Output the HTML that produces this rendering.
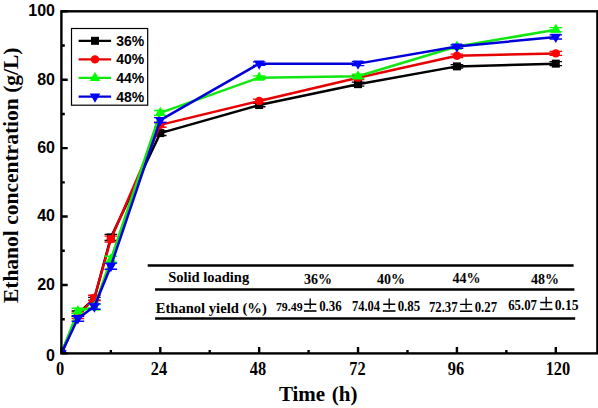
<!DOCTYPE html>
<html><head><meta charset="utf-8"><style>
html,body{margin:0;padding:0;background:#fff;}
body{width:598px;height:408px;overflow:hidden;}
svg{display:block;}
.s{font-family:"Liberation Sans",sans-serif;font-weight:bold;}
.r{font-family:"Liberation Serif",serif;font-weight:bold;}
</style></head><body>
<svg width="598" height="408" viewBox="0 0 598 408">
<rect x="0" y="0" width="598" height="408" fill="#fff"/>

<defs><clipPath id="pc"><rect x="61.4" y="11.3" width="536.00" height="342.10"/></clipPath></defs>
<g clip-path="url(#pc)">
<polyline points="61.40,353.40 77.88,313.72 94.36,298.66 110.84,237.43 160.28,133.09 259.16,105.04 358.04,84.17 456.92,66.38 555.80,63.64" fill="none" stroke="#000000" stroke-width="2.5" stroke-linejoin="round"/>
<rect x="57.40" y="349.40" width="8" height="8" fill="#000000"/>
<path d="M77.88 310.98V316.45M71.58 310.98H84.18M71.58 316.45H84.18" stroke="#000000" stroke-width="1.3" fill="none"/>
<rect x="73.88" y="309.72" width="8" height="8" fill="#000000"/>
<path d="M94.36 297.30V300.03M88.06 297.30H100.66M88.06 300.03H100.66" stroke="#000000" stroke-width="1.3" fill="none"/>
<rect x="90.36" y="294.66" width="8" height="8" fill="#000000"/>
<path d="M110.84 234.35V240.51M104.54 234.35H117.14M104.54 240.51H117.14" stroke="#000000" stroke-width="1.3" fill="none"/>
<rect x="106.84" y="233.43" width="8" height="8" fill="#000000"/>
<path d="M160.28 130.69V135.48M153.98 130.69H166.58M153.98 135.48H166.58" stroke="#000000" stroke-width="1.3" fill="none"/>
<rect x="156.28" y="129.09" width="8" height="8" fill="#000000"/>
<path d="M259.16 103.32V106.75M252.86 103.32H265.46M252.86 106.75H265.46" stroke="#000000" stroke-width="1.3" fill="none"/>
<rect x="255.16" y="101.04" width="8" height="8" fill="#000000"/>
<path d="M358.04 82.11V86.22M351.74 82.11H364.34M351.74 86.22H364.34" stroke="#000000" stroke-width="1.3" fill="none"/>
<rect x="354.04" y="80.17" width="8" height="8" fill="#000000"/>
<path d="M456.92 64.67V68.09M450.62 64.67H463.22M450.62 68.09H463.22" stroke="#000000" stroke-width="1.3" fill="none"/>
<rect x="452.92" y="62.38" width="8" height="8" fill="#000000"/>
<path d="M555.80 61.59V65.69M549.50 61.59H562.10M549.50 65.69H562.10" stroke="#000000" stroke-width="1.3" fill="none"/>
<rect x="551.80" y="59.64" width="8" height="8" fill="#000000"/>
<polyline points="61.40,353.40 77.88,315.77 94.36,297.98 110.84,239.14 160.28,124.88 259.16,100.93 358.04,77.67 456.92,55.77 555.80,53.38" fill="none" stroke="#e60000" stroke-width="2.5" stroke-linejoin="round"/>
<circle cx="61.40" cy="353.40" r="4.2" fill="#ff0000"/>
<path d="M77.88 313.03V318.51M71.58 313.03H84.18M71.58 318.51H84.18" stroke="#ff0000" stroke-width="1.3" fill="none"/>
<circle cx="77.88" cy="315.77" r="4.2" fill="#ff0000"/>
<path d="M94.36 295.24V300.72M88.06 295.24H100.66M88.06 300.72H100.66" stroke="#ff0000" stroke-width="1.3" fill="none"/>
<circle cx="94.36" cy="297.98" r="4.2" fill="#ff0000"/>
<path d="M110.84 236.06V242.22M104.54 236.06H117.14M104.54 242.22H117.14" stroke="#ff0000" stroke-width="1.3" fill="none"/>
<circle cx="110.84" cy="239.14" r="4.2" fill="#ff0000"/>
<path d="M160.28 122.48V127.27M153.98 122.48H166.58M153.98 127.27H166.58" stroke="#ff0000" stroke-width="1.3" fill="none"/>
<circle cx="160.28" cy="124.88" r="4.2" fill="#ff0000"/>
<path d="M259.16 99.22V102.64M252.86 99.22H265.46M252.86 102.64H265.46" stroke="#ff0000" stroke-width="1.3" fill="none"/>
<circle cx="259.16" cy="100.93" r="4.2" fill="#ff0000"/>
<path d="M358.04 75.61V79.72M351.74 75.61H364.34M351.74 79.72H364.34" stroke="#ff0000" stroke-width="1.3" fill="none"/>
<circle cx="358.04" cy="77.67" r="4.2" fill="#ff0000"/>
<path d="M456.92 54.06V57.48M450.62 54.06H463.22M450.62 57.48H463.22" stroke="#ff0000" stroke-width="1.3" fill="none"/>
<circle cx="456.92" cy="55.77" r="4.2" fill="#ff0000"/>
<path d="M555.80 51.33V55.43M549.50 51.33H562.10M549.50 55.43H562.10" stroke="#ff0000" stroke-width="1.3" fill="none"/>
<circle cx="555.80" cy="53.38" r="4.2" fill="#ff0000"/>
<polyline points="61.40,353.40 77.88,310.98 94.36,307.22 110.84,259.32 160.28,112.90 259.16,77.67 358.04,76.30 456.92,46.54 555.80,29.77" fill="none" stroke="#12e612" stroke-width="2.5" stroke-linejoin="round"/>
<path d="M61.40 347.30 L66.70 356.50 L56.10 356.50Z" fill="#00ff00"/>
<path d="M77.88 308.24V313.72M71.58 308.24H84.18M71.58 313.72H84.18" stroke="#00ff00" stroke-width="1.3" fill="none"/>
<path d="M77.88 304.88 L83.18 314.08 L72.58 314.08Z" fill="#00ff00"/>
<path d="M94.36 304.48V309.95M88.06 304.48H100.66M88.06 309.95H100.66" stroke="#00ff00" stroke-width="1.3" fill="none"/>
<path d="M94.36 301.12 L99.66 310.32 L89.06 310.32Z" fill="#00ff00"/>
<path d="M110.84 256.24V262.40M104.54 256.24H117.14M104.54 262.40H117.14" stroke="#00ff00" stroke-width="1.3" fill="none"/>
<path d="M110.84 253.22 L116.14 262.42 L105.54 262.42Z" fill="#00ff00"/>
<path d="M160.28 110.51V115.30M153.98 110.51H166.58M153.98 115.30H166.58" stroke="#00ff00" stroke-width="1.3" fill="none"/>
<path d="M160.28 106.80 L165.58 116.00 L154.98 116.00Z" fill="#00ff00"/>
<path d="M259.16 75.96V79.38M252.86 75.96H265.46M252.86 79.38H265.46" stroke="#00ff00" stroke-width="1.3" fill="none"/>
<path d="M259.16 71.57 L264.46 80.77 L253.86 80.77Z" fill="#00ff00"/>
<path d="M358.04 74.25V78.35M351.74 74.25H364.34M351.74 78.35H364.34" stroke="#00ff00" stroke-width="1.3" fill="none"/>
<path d="M358.04 70.20 L363.34 79.40 L352.74 79.40Z" fill="#00ff00"/>
<path d="M456.92 44.83V48.25M450.62 44.83H463.22M450.62 48.25H463.22" stroke="#00ff00" stroke-width="1.3" fill="none"/>
<path d="M456.92 40.44 L462.22 49.64 L451.62 49.64Z" fill="#00ff00"/>
<path d="M555.80 27.72V31.83M549.50 27.72H562.10M549.50 31.83H562.10" stroke="#00ff00" stroke-width="1.3" fill="none"/>
<path d="M555.80 23.67 L561.10 32.87 L550.50 32.87Z" fill="#00ff00"/>
<polyline points="61.40,353.40 77.88,318.51 94.36,306.53 110.84,266.16 160.28,120.09 259.16,63.64 358.04,63.64 456.92,46.54 555.80,36.96" fill="none" stroke="#0000d8" stroke-width="2.5" stroke-linejoin="round"/>
<path d="M61.40 359.50 L66.70 350.30 L56.10 350.30Z" fill="#0000ff"/>
<path d="M77.88 315.77V321.24M71.58 315.77H84.18M71.58 321.24H84.18" stroke="#0000ff" stroke-width="1.3" fill="none"/>
<path d="M77.88 324.61 L83.18 315.41 L72.58 315.41Z" fill="#0000ff"/>
<path d="M94.36 303.80V309.27M88.06 303.80H100.66M88.06 309.27H100.66" stroke="#0000ff" stroke-width="1.3" fill="none"/>
<path d="M94.36 312.63 L99.66 303.43 L89.06 303.43Z" fill="#0000ff"/>
<path d="M110.84 263.09V269.24M104.54 263.09H117.14M104.54 269.24H117.14" stroke="#0000ff" stroke-width="1.3" fill="none"/>
<path d="M110.84 272.26 L116.14 263.06 L105.54 263.06Z" fill="#0000ff"/>
<path d="M160.28 117.69V122.48M153.98 117.69H166.58M153.98 122.48H166.58" stroke="#0000ff" stroke-width="1.3" fill="none"/>
<path d="M160.28 126.19 L165.58 116.99 L154.98 116.99Z" fill="#0000ff"/>
<path d="M259.16 61.93V65.35M252.86 61.93H265.46M252.86 65.35H265.46" stroke="#0000ff" stroke-width="1.3" fill="none"/>
<path d="M259.16 69.74 L264.46 60.54 L253.86 60.54Z" fill="#0000ff"/>
<path d="M358.04 61.59V65.69M351.74 61.59H364.34M351.74 65.69H364.34" stroke="#0000ff" stroke-width="1.3" fill="none"/>
<path d="M358.04 69.74 L363.34 60.54 L352.74 60.54Z" fill="#0000ff"/>
<path d="M456.92 44.83V48.25M450.62 44.83H463.22M450.62 48.25H463.22" stroke="#0000ff" stroke-width="1.3" fill="none"/>
<path d="M456.92 52.64 L462.22 43.44 L451.62 43.44Z" fill="#0000ff"/>
<path d="M555.80 34.90V39.01M549.50 34.90H562.10M549.50 39.01H562.10" stroke="#0000ff" stroke-width="1.3" fill="none"/>
<path d="M555.80 43.06 L561.10 33.86 L550.50 33.86Z" fill="#0000ff"/>
</g>
<rect x="61.4" y="11.3" width="536.00" height="342.10" fill="none" stroke="#000" stroke-width="2.4"/>
<path d="M61.40 353.40H67.70M61.40 319.19H64.80M61.40 284.98H67.70M61.40 250.77H64.80M61.40 216.56H67.70M61.40 182.35H64.80M61.40 148.14H67.70M61.40 113.93H64.80M61.40 79.72H67.70M61.40 45.51H64.80M61.40 11.30H67.70M61.40 353.40V347.10M110.84 353.40V350.00M160.28 353.40V347.10M209.72 353.40V350.00M259.16 353.40V347.10M308.60 353.40V350.00M358.04 353.40V347.10M407.48 353.40V350.00M456.92 353.40V347.10M506.36 353.40V350.00M555.80 353.40V347.10" stroke="#000" stroke-width="2.4" fill="none"/>
<text class="s" x="55" y="360.5" font-size="16" text-anchor="end">0</text>
<text class="s" x="55" y="289.7" font-size="16" text-anchor="end">20</text>
<text class="s" x="55" y="221.0" font-size="16" text-anchor="end">40</text>
<text class="s" x="55" y="152.5" font-size="16" text-anchor="end">60</text>
<text class="s" x="55" y="84.5" font-size="16" text-anchor="end">80</text>
<text class="s" x="55" y="15.8" font-size="16" text-anchor="end">100</text>
<text class="r" transform="translate(60.20,374.8) scale(0.91,1)" font-size="18" text-anchor="middle">0</text>
<text class="r" transform="translate(159.00,374.8) scale(0.91,1)" font-size="18" text-anchor="middle">24</text>
<text class="r" transform="translate(258.00,374.8) scale(0.91,1)" font-size="18" text-anchor="middle">48</text>
<text class="r" transform="translate(357.40,374.8) scale(0.91,1)" font-size="18" text-anchor="middle">72</text>
<text class="r" transform="translate(456.00,374.8) scale(0.91,1)" font-size="18" text-anchor="middle">96</text>
<text class="r" transform="translate(557.90,374.8) scale(0.91,1)" font-size="18" text-anchor="middle">120</text>
<text class="r" x="278.9" y="401.3" font-size="21" word-spacing="1.3">Time (h)</text>
<text class="r" transform="translate(17.6,175.3) rotate(-90)" x="0" y="0" font-size="21.5" text-anchor="middle">Ethanol concentration (g/L)</text>
<rect x="71.5" y="28.5" width="76.2" height="76.7" fill="#fff" stroke="#000" stroke-width="1.2"/>
<line x1="78.6" y1="40.8" x2="111.1" y2="40.8" stroke="#000000" stroke-width="2.3"/>
<rect x="91.00" y="36.80" width="8" height="8" fill="#000000"/>
<text class="s" x="116.2" y="45.80" font-size="14">36%</text>
<line x1="78.6" y1="59.4" x2="111.1" y2="59.4" stroke="#e60000" stroke-width="2.3"/>
<circle cx="95.00" cy="59.40" r="4.2" fill="#ff0000"/>
<text class="s" x="116.2" y="64.40" font-size="14">40%</text>
<line x1="78.6" y1="77.9" x2="111.1" y2="77.9" stroke="#12e612" stroke-width="2.3"/>
<path d="M95.00 71.80 L100.30 81.00 L89.70 81.00Z" fill="#00ff00"/>
<text class="s" x="116.2" y="82.90" font-size="14">44%</text>
<line x1="78.6" y1="96.6" x2="111.1" y2="96.6" stroke="#0000d8" stroke-width="2.3"/>
<path d="M95.00 102.70 L100.30 93.50 L89.70 93.50Z" fill="#0000ff"/>
<text class="s" x="116.2" y="101.60" font-size="14">48%</text>
<path d="M147.7 265.6H573.6M155.1 289.6H574.4M155.1 318.6H575.2" stroke="#000" stroke-width="2.5" fill="none"/>
<text class="r" x="168.2" y="281.6" font-size="14.5">Solid loading</text>
<text class="r" x="318" y="284.3" font-size="14" text-anchor="middle">36%</text>
<text class="r" x="391" y="284.2" font-size="14" text-anchor="middle">40%</text>
<text class="r" x="466.4" y="282.6" font-size="14" text-anchor="middle">44%</text>
<text class="r" x="545" y="284.1" font-size="14" text-anchor="middle">48%</text>
<text class="r" x="155.7" y="312.5" font-size="14.6">Ethanol yield (%)</text>
<text class="r" x="275.9" y="311.3" font-size="12.4" textLength="26.8" lengthAdjust="spacingAndGlyphs">79.49</text>
<path d="M304.20 304.20H316.20M310.20 298.40V309.00" stroke="#000" stroke-width="1.35" fill="none"/><path d="M303.90 311.00H316.50" stroke="#000" stroke-width="1.6" fill="none"/>
<text class="r" x="319.2" y="311.3" font-size="13.8" textLength="22.5" lengthAdjust="spacingAndGlyphs">0.36</text>
<text class="r" x="351.9" y="311.3" font-size="13.8" textLength="28.1" lengthAdjust="spacingAndGlyphs">74.04</text>
<path d="M383.20 304.20H395.20M389.20 298.40V309.00" stroke="#000" stroke-width="1.35" fill="none"/><path d="M382.90 311.00H395.50" stroke="#000" stroke-width="1.6" fill="none"/>
<text class="r" x="397.7" y="311.3" font-size="13.8" textLength="22.5" lengthAdjust="spacingAndGlyphs">0.85</text>
<text class="r" x="428.9" y="311.6" font-size="13.8" textLength="28.7" lengthAdjust="spacingAndGlyphs">72.37</text>
<path d="M460.10 304.40H472.10M466.10 298.60V309.20" stroke="#000" stroke-width="1.35" fill="none"/><path d="M459.80 311.20H472.40" stroke="#000" stroke-width="1.6" fill="none"/>
<text class="r" x="474.7" y="311.8" font-size="13.8" textLength="22.5" lengthAdjust="spacingAndGlyphs">0.27</text>
<text class="r" x="508.2" y="310.1" font-size="13.8" textLength="28.8" lengthAdjust="spacingAndGlyphs">65.07</text>
<path d="M540.20 302.50H552.20M546.20 296.70V307.30" stroke="#000" stroke-width="1.35" fill="none"/><path d="M539.90 309.30H552.50" stroke="#000" stroke-width="1.6" fill="none"/>
<text class="r" x="554.7" y="310.1" font-size="13.8" textLength="24.0" lengthAdjust="spacingAndGlyphs">0.15</text>
</svg>
</body></html>
